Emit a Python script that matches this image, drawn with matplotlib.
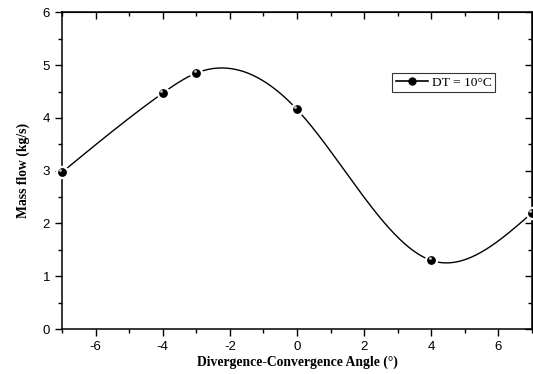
import numpy as np
import matplotlib.pyplot as plt
from matplotlib.ticker import MultipleLocator

plt.rcParams['axes.unicode_minus'] = False

angle = [-7, -4, -3, 0, 4, 7]
mass_flow = [2.97, 4.47, 4.85, 4.16, 1.30, 2.20]


def natural_spline(x, y, xs):
    x = np.asarray(x, float)
    y = np.asarray(y, float)
    n = len(x)
    h = np.diff(x)
    A = np.zeros((n, n))
    b = np.zeros(n)
    A[0, 0] = A[-1, -1] = 1
    for i in range(1, n - 1):
        A[i, i - 1] = h[i - 1]
        A[i, i] = 2 * (h[i - 1] + h[i])
        A[i, i + 1] = h[i]
        b[i] = 6 * ((y[i + 1] - y[i]) / h[i] - (y[i] - y[i - 1]) / h[i - 1])
    M = np.linalg.solve(A, b)
    idx = np.clip(np.searchsorted(x, xs) - 1, 0, n - 2)
    x0, x1 = x[idx], x[idx + 1]
    hh = x1 - x0
    t0 = x1 - xs
    t1 = xs - x0
    return (M[idx] * t0**3 / (6 * hh) + M[idx + 1] * t1**3 / (6 * hh)
            + (y[idx] / hh - M[idx] * hh / 6) * t0
            + (y[idx + 1] / hh - M[idx + 1] * hh / 6) * t1)


fig = plt.figure(figsize=(5.33, 3.74), dpi=100)
ax = fig.add_axes([0.1163, 0.1203, 0.8818, 0.8466])

xs = np.linspace(angle[0], angle[-1], 400)
ax.plot(xs, natural_spline(angle, mass_flow, xs), color='black', lw=1.0, zorder=2)
# white halo to make the gap around markers
ax.scatter(angle, mass_flow, s=75, color='white', zorder=3, clip_on=False)
ax.scatter(angle, mass_flow, s=28, color='black', zorder=4, clip_on=False)
ax.scatter(np.array(angle) - 0.05, np.array(mass_flow) + 0.04, s=4,
           color='#c8c8c8', zorder=5, clip_on=False, linewidths=0)

h, = ax.plot([], [], color='black', lw=1.2, marker='o', ms=5,
             markerfacecolor='black', markeredgecolor='black')
leg = ax.legend([h], ['DT = 10°C'], loc='upper left', bbox_to_anchor=(0.703, 0.808),
                frameon=True, fancybox=False, edgecolor='black', handlelength=2.4,
                handletextpad=0.3, borderpad=0.25, borderaxespad=0,
                prop={'family': 'Liberation Serif', 'size': 9.7})
leg.get_frame().set_linewidth(0.8)

ax.set_xlim(-7, 7)
ax.set_ylim(0, 6)
ax.xaxis.set_major_locator(MultipleLocator(2))
ax.xaxis.set_minor_locator(MultipleLocator(1))
ax.yaxis.set_major_locator(MultipleLocator(1))
ax.yaxis.set_minor_locator(MultipleLocator(0.5))
ax.tick_params(which='both', direction='out', width=1, labelsize=9.5,
               top=False, right=False)
ax.tick_params(which='major', length=5)
ax.tick_params(which='minor', length=3)
for lab in ax.get_xticklabels() + ax.get_yticklabels():
    lab.set_family('Liberation Sans')

# top and right ticks pointing inward
sec_x = ax.secondary_xaxis('top')
sec_x.xaxis.set_major_locator(MultipleLocator(2))
sec_x.xaxis.set_minor_locator(MultipleLocator(1))
sec_x.tick_params(which='both', direction='in', labeltop=False, width=1)
sec_x.tick_params(which='major', length=5)
sec_x.tick_params(which='minor', length=3)
sec_y = ax.secondary_yaxis('right')
sec_y.yaxis.set_major_locator(MultipleLocator(1))
sec_y.yaxis.set_minor_locator(MultipleLocator(0.5))
sec_y.tick_params(which='both', direction='in', labelright=False, width=1)
sec_y.tick_params(which='major', length=5)
sec_y.tick_params(which='minor', length=3)

for sp in ax.spines.values():
    sp.set_linewidth(1.1)

ax.set_xlabel('Divergence-Convergence Angle (°)', family='Liberation Serif',
              fontweight='bold', fontsize=9.8, labelpad=2)
ax.set_ylabel('Mass flow (kg/s)', family='Liberation Serif',
              fontweight='bold', fontsize=9.8, labelpad=9)

fig.savefig('out.png', dpi=100)
